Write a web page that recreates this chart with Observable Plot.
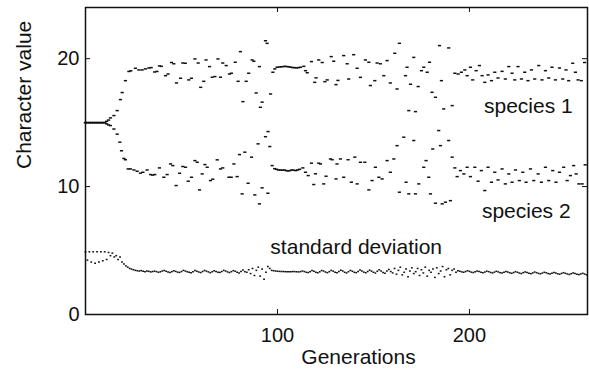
<!DOCTYPE html>
<html><head><meta charset="utf-8">
<script src="https://cdn.jsdelivr.net/npm/d3@7"></script>
<script src="https://cdn.jsdelivr.net/npm/@observablehq/plot@0.6"></script>
<style>html,body{margin:0;padding:0;background:#fff}svg{display:block}</style>
</head><body><div id="chart"></div>
<script>
// species 1 (upper branch): generation, character value
const s1Gen = [0,1,2,3,4,5,6,7,8,9,10,11,12,13,14.8,16.5,18.2,19.1,20.8,22.6,23.6,26,27.8,29.5,31.2,33,34.2,36,37.2,38.5,39.5,41.7,43,44.8,46,47.4,49.5,50.7,52,53.8,55.2,57,58.7,60,61.6,62.8,64.6,66,67.4,69,70.3,71.5,73.3,75,76,78,79.5,80.7,82,83.7,85,86.8,87.7,88.9,90.6,91.1,92,93.75,94.6,96.4,97.6,98.6,99.8,101,102,103,104,105,106,107,108,109,110,111,112,113.7,114.6,115.5,117.7,119.4,120.1,121.5,123.3,124.7,125.9,128,129.3,130.5,131.5,134.5,136.3,137.1,139.7,141.5,143.2,145.8,147.6,148.4,150.7,151.9,153.6,155.4,157.1,158.8,161.1,162.3,163.5,166.7,167.5,168.4,169.3,171,171.9,173.3,175,176.2,178,179.2,180.5,182.3,184.4,185.4,186.6,189.2,191,192.4,194.1,195.8,197.6,198.8,200.5,201.7,203.5,205.2,206.6,208,209.7,211.5,213.2,214.9,217,218.7,220.5,222.2,223.6,225.3,227.1,228.8,230.5,232.3,234,236.1,237.8,239.6,241.3,243,244.8,246.9,248.6,250.3,251.7,253.8,255.2,256.6,258.3,260];
const s1Val = [15,15,15,15,15,15,15,15,15,15,15,15.1,15.2,15.37,15.55,15.94,16.8,17.35,18.28,19.0,19.05,19.25,19.12,19.12,19.2,19.27,19.3,18.96,19.0,19.43,19.4,18.67,18.8,19.7,19.6,18.1,18.47,19.66,19.64,18.34,18.47,19.98,19.66,17.76,18.23,19.9,19.38,18.55,18.6,19.98,18.55,19.66,19.46,18.8,18.86,19.72,18.23,20.55,16.64,18.23,18.86,19.9,19.8,17.32,19.38,16.2,16.6,21.4,21.2,17.24,18.94,19.2,19.33,19.35,19.37,19.38,19.4,19.38,19.36,19.33,19.3,19.3,19.28,19.3,19.33,19.4,19.06,18.9,19.77,18.15,18.5,19.9,19.7,18.2,18.34,20.16,19.8,17.97,18.3,20.24,19.6,18.41,20.31,19.25,18.54,19.9,19.72,17.9,18.28,19.66,19.6,18.67,19.85,18.1,20.42,17.63,21.2,18.67,19.33,15.94,18.0,20.1,15.86,17.82,19.06,19.33,18.94,19.72,17.37,16.98,21.02,18.28,16.07,20.84,16.33,18.86,18.8,18.94,19.12,18.67,19.33,18.34,19.06,19.46,18.67,18.15,18.73,18.28,18.94,18.49,19.01,18.41,19.38,18.86,18.34,19.38,18.41,18.94,18.28,19.12,18.41,19.46,18.34,19.06,18.49,19.33,18.34,19.27,18.41,19.12,18.28,19.64,18.94,18.34,18.28,19.7];

// species 2 (lower branch)
const s2Gen = [0,1,2,3,4,5,6,7,8,9,10,11,12,13,14.8,16.5,17.9,18.75,20,20.8,22.2,23.4,25.2,26.9,28.6,29.9,32.1,33.9,35,36.1,38.5,40.8,42.5,44.3,45.5,47.2,49,50.7,52.1,53.5,55.2,57,58.2,59.4,60.8,62.2,63.4,65.1,66.3,68.6,70.3,71.5,74.7,75.9,77.3,79,80.2,81.6,83,84.7,86.5,88.2,89.9,90.6,92,93.75,95,95.1,96,97.2,98.5,99.5,100.5,101.5,102.5,103.5,104.5,105.5,106.5,107.5,108.5,109.5,110.5,111.5,113.2,114.6,116,117.7,118.9,119.8,121.5,122.4,124.1,125.3,127.6,128.5,130.5,131,132.8,134.5,136.8,138.5,140.3,141.5,143.2,145.5,147.6,149.3,151,152.8,154.5,157.1,158.8,160.6,162.3,163.5,165.8,167,168.4,171,171.9,173.6,176.2,177.4,178.8,179.7,180.9,182.3,184,184.9,185.8,187.5,189.2,190.1,191,192.4,193.6,195.3,197.1,198.8,200.5,202.8,204.5,206.2,208,209.7,211.5,213.2,214.9,217,218.7,220.5,222.2,224,226,227.8,229.5,231.8,233.5,235.8,237.5,239.6,241.3,243.4,245.1,246.9,249.1,250.9,252.6,254.3,255.6,257,258.7,260.3];
const s2Val = [15,15,15,15,15,15,15,15,15,15,15,14.9,14.82,14.77,14.5,14.1,13.47,12.8,12.2,12.1,11.38,11.38,11.3,11.2,11.05,11.12,11.3,10.94,10.9,10.94,11.46,10.73,10.94,11.77,11.64,10.08,11.04,11.57,11.51,10.42,10.73,12.03,11.9,9.74,10.99,11.72,11.51,10.47,10.58,12.09,11.38,11.46,10.73,10.73,11.77,10.78,12.5,9.43,12.69,10.26,12.3,9.35,13.34,8.65,9.9,13.9,9.48,14.3,13.13,11.64,11.4,11.35,11.3,11.3,11.28,11.3,11.25,11.22,11.25,11.3,11.28,11.25,11.3,11.35,11.46,11.12,10.86,11.83,10.16,11.0,11.83,11.77,10.21,10.81,12.16,12.1,10.6,11.77,12.16,10.73,12.1,10.34,12.3,10.21,11.9,11.9,9.74,10.47,11.51,10.73,10.6,12.03,11.12,12.16,13.2,9.56,13.86,10.34,9.43,13.6,9.43,10.21,11.51,12.03,10.73,9.43,12.94,8.7,14.38,13.2,8.65,8.78,13.6,8.9,12.3,11.46,10.78,11.25,10.99,11.51,10.78,11.51,10.42,11.25,9.69,11.51,10.34,11.12,10.52,11.38,10.21,10.99,10.34,11.3,10.47,11.12,10.34,11.38,10.47,10.99,10.34,11.51,10.47,11.25,10.34,11.12,11.51,10.47,10.86,11.64,10.99,10.21,10.21,11.7];

// standard deviation, one value per generation, in consecutive runs
const sdRunStart = [0, 30, 85, 98, 161, 194];
const sdRunA = [4.9,4.25,4.9,4.1,4.9,4.0,4.9,4.1,4.9,4.2,4.9,4.3,4.85,4.6,4.8,4.5,4.6,4.3,4.5,4.1,3.95,3.8,3.7,3.6,3.55,3.5,3.45,3.42,3.4,3.43];
const sdRunB = [3.38,3.35,3.4,3.37,3.33,3.36,3.39,3.35,3.3,3.34,3.4,3.44,3.38,3.33,3.28,3.35,3.42,3.37,3.31,3.29,3.36,3.45,3.4,3.34,3.3,3.27,3.35,3.43,3.38,3.32,3.28,3.36,3.44,3.39,3.33,3.27,3.34,3.42,3.37,3.31,3.29,3.36,3.45,3.4,3.33,3.28,3.35,3.43,3.38,3.3,3.25,3.36,3.47,3.35,3.3];
const sdRunC = [3.5,3.2,3.6,3.05,3.45,3.7,3.0,3.55,2.75,3.3,3.75,3.6,3.45];
const sdRunD = [3.42,3.4,3.38,3.37,3.36,3.36,3.35,3.35,3.34,3.35,3.36,3.35,3.34,3.33,3.35,3.4,3.36,3.3,3.28,3.35,3.43,3.38,3.3,3.26,3.34,3.44,3.4,3.32,3.27,3.35,3.45,3.39,3.31,3.26,3.36,3.46,3.4,3.3,3.25,3.35,3.45,3.38,3.3,3.27,3.37,3.47,3.4,3.31,3.26,3.36,3.46,3.39,3.3,3.24,3.38,3.5,3.4,3.28,3.22,3.4,3.52,3.36,3.25];
const sdRunE = [3.6,3.15,3.45,3.7,3.1,3.3,3.55,2.95,3.4,3.65,3.2,3.35,3.6,3.05,3.5,3.25,3.7,3.0,3.45,3.3,3.55,2.9,3.65,3.2,3.4,3.75,2.95,3.5,3.6,3.1,3.45,3.55,3.3];
const sdRunF = [3.42,3.38,3.33,3.3,3.36,3.42,3.37,3.31,3.28,3.34,3.4,3.36,3.3,3.26,3.32,3.39,3.35,3.29,3.25,3.31,3.38,3.33,3.27,3.24,3.3,3.36,3.32,3.26,3.22,3.28,3.35,3.3,3.24,3.2,3.27,3.33,3.29,3.23,3.19,3.25,3.32,3.27,3.21,3.18,3.24,3.3,3.26,3.2,3.16,3.22,3.29,3.24,3.18,3.15,3.21,3.27,3.22,3.17,3.13,3.19,3.25,3.2,3.15,3.12,3.17,3.22,3.16,3.1];

const xTicks = [100, 200];
const yTicks = [0, 10, 20];

const species = [
  ...s1Gen.map((g, i) => ({gen: g, value: s1Val[i]})),
  ...s2Gen.map((g, i) => ({gen: g, value: s2Val[i]}))
];
const sd = [];
[sdRunA, sdRunB, sdRunC, sdRunD, sdRunE, sdRunF].forEach((run, k) => {
  run.forEach((v, i) => sd.push({gen: sdRunStart[k] + i, value: v}));
});

const dash = {draw(c) { c.moveTo(-1.6,-0.75); c.lineTo(1.6,-0.75); c.lineTo(1.6,0.75); c.lineTo(-1.6,0.75); c.closePath(); }};
const dot = {draw(c) { c.moveTo(-0.9,-0.75); c.lineTo(0.9,-0.75); c.lineTo(0.9,0.75); c.lineTo(-0.9,0.75); c.closePath(); }};

const ink = "#111";
const chart = Plot.plot({
  width: 589, height: 374,
  marginLeft: 85, marginRight: 2, marginTop: 7, marginBottom: 60,
  style: {fontFamily: "'Liberation Sans', Arial, Helvetica, sans-serif", fontSize: "20px", color: ink, background: "#fff"},
  x: {domain: [0, 261.5]},
  y: {domain: [0, 24]},
  marks: [
    Plot.dot(species, {x: "gen", y: "value", symbol: dash, fill: ink, stroke: "none"}),
    Plot.dot(sd, {x: "gen", y: "value", symbol: dot, fill: ink, stroke: "none"}),
    Plot.ruleX(xTicks, {x: d => d, insetTop: 302, stroke: ink, strokeWidth: 1}),
    Plot.ruleX(xTicks, {x: d => d, insetBottom: 302, stroke: ink, strokeWidth: 1}),
    Plot.ruleY(yTicks, {y: d => d, insetRight: 497, stroke: ink, strokeWidth: 1}),
    Plot.ruleY(yTicks, {y: d => d, insetLeft: 497, stroke: ink, strokeWidth: 1}),
    Plot.axisX({ticks: xTicks, tickSize: 0, tickPadding: 13, label: null, fontSize: 20}),
    Plot.axisY({ticks: yTicks, tickSize: 0, tickPadding: 6, label: null, fontSize: 20}),
    Plot.frame({stroke: ink, strokeWidth: 1.5}),
    Plot.text(["Generations"], {text: d => d, frameAnchor: "bottom", dx: 22, dy: 49, fontSize: 21, fill: ink}),
    Plot.text(["Character value"], {text: d => d, frameAnchor: "left", rotate: -90, dx: -61, dy: 8, fontSize: 21, fill: ink}),
    Plot.text(["species 1"], {text: d => d, x: 230.7, y: 16.3, fontSize: 21, fill: ink}),
    Plot.text(["species 2"], {text: d => d, x: 229.6, y: 8.1, fontSize: 21, fill: ink}),
    Plot.text(["standard deviation"], {text: d => d, x: 141, y: 5.23, fontSize: 21, fill: ink})
  ]
});
document.getElementById("chart").appendChild(chart);
</script>
</body></html>
